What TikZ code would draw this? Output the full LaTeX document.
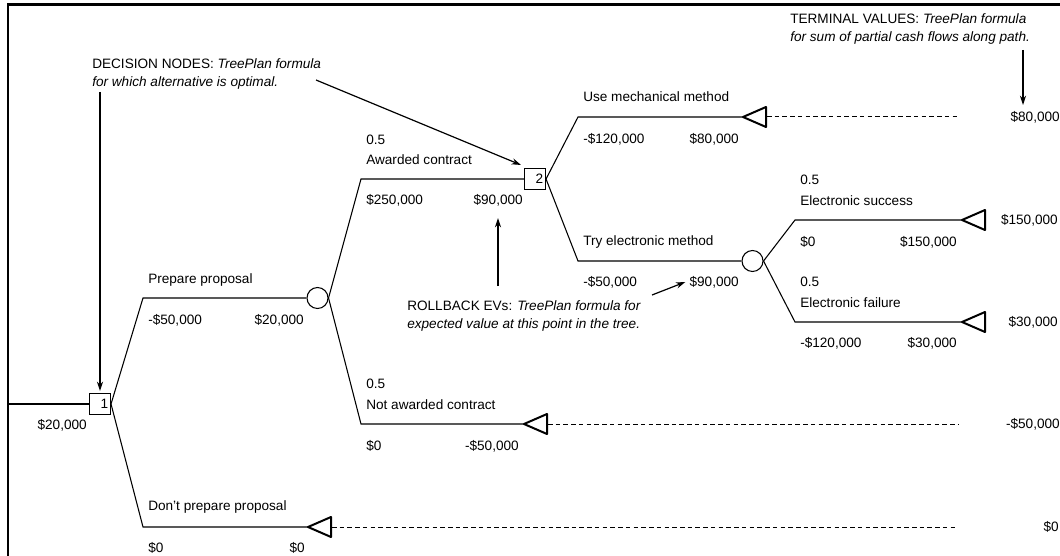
\documentclass[tikz,border=0pt]{standalone}
\usepackage{fontspec}
\setmainfont{Liberation Sans}
\usetikzlibrary{arrows.meta}
\begin{document}
\begin{tikzpicture}[x=0.75pt,y=-0.75pt,
  br/.style={line width=0.8pt},
  dashline/.style={line width=0.75pt, dash pattern=on 3.4pt off 2.4pt},
  tri/.style={line width=1.5pt, line join=round},
  lbl/.style={inner sep=0pt, anchor=west, font=\fontsize{10.2}{12}\selectfont},
  val/.style={inner sep=0pt, anchor=east, font=\fontsize{10.2}{12}\selectfont},
  dnode/.style={draw, line width=0.8pt, rectangle, minimum size=15.75pt, inner sep=0pt},
  cnode/.style={draw, line width=0.8pt, circle, minimum size=15.75pt, inner sep=0pt},
  note/.style={inner sep=0pt, anchor=west, align=left, font=\fontsize{10.2}{14.2}\selectfont},
  ptr/.style={line width=0.9pt, -{Stealth[length=7pt,width=4.6pt]}},
  frame/.style={line width=1.7pt}
]
\useasboundingbox (0,0) rectangle (1060,556);
% frame
\draw[frame] (8,556) -- (8,4.5) -- (1060,4.5);

% decision and chance nodes
\node[dnode] (d1) at (100,404) {};
\node[val] at ([xshift=-2pt]d1.east) {1};
\node[cnode] (c1) at (317.5,298) {};
\node[dnode] (d2) at (535,179) {};
\node[val] at ([xshift=-2pt]d2.east) {2};
\node[cnode] (c2) at (752.5,261) {};

% terminal tips
\coordinate (tMech) at (743,117);
\coordinate (tSucc) at (962,220);
\coordinate (tFail) at (962,322);
\coordinate (tNot) at (524,424);
\coordinate (tDont) at (308,527);
\foreach \t in {tMech,tSucc,tFail,tNot,tDont}{
  \draw[tri] (\t) -- ++(23,-10) -- ++(0,20) -- cycle;
}
% dashed extensions
\coordinate (eMech) at (958,117);
\coordinate (eNot) at (958,424);
\coordinate (eDont) at (958,527);
\draw[dashline] ([xshift=18pt]tMech) -- (eMech);
\draw[dashline] ([xshift=18pt]tNot) -- (eNot);
\draw[dashline] ([xshift=18pt]tDont) -- (eDont);

% root
\coordinate (root) at (8,404);
\draw[br] (root) -- (d1.west);
\node[val] at (87,425) {\$20,000};

% branches from d1
\draw[br] (d1.east) -- (143,298) -- (c1.west);
\node[lbl] at (148,280) {Prepare proposal};
\node[lbl] at (148,320) {-\$50,000};
\node[val] at (304,320) {\$20,000};

\draw[br] (d1.east) -- (143,527) -- (tDont);
\node[lbl] at (148,507) {Don't prepare proposal};
\node[lbl] at (148,548) {\$0};
\node[val] at (305,548) {\$0};

% branches from c1
\draw[br] (c1.east) -- (361,179) -- (d2.west);
\node[lbl] at (366,140) {0.5};
\node[lbl] at (366,160) {Awarded contract};
\node[lbl] at (366,200) {\$250,000};
\node[val] (v90a) at (523,200) {\$90,000};

\draw[br] (c1.east) -- (361,424) -- (tNot);
\node[lbl] at (366,384) {0.5};
\node[lbl] at (366,405) {Not awarded contract};
\node[lbl] at (366,446) {\$0};
\node[val] at (519,446) {-\$50,000};

% branches from d2
\draw[br] (d2.east) -- (578,117) -- (tMech);
\node[lbl] at (583,97) {Use mechanical method};
\node[lbl] at (583,139) {-\$120,000};
\node[val] at (739,139) {\$80,000};

\draw[br] (d2.east) -- (578,261) -- (c2.west);
\node[lbl] at (583,242) {Try electronic method};
\node[lbl] at (583,282) {-\$50,000};
\node[val] (v90b) at (739,282) {\$90,000};

% branches from c2
\draw[br] (c2.east) -- (795,220) -- (tSucc);
\node[lbl] at (800,180) {0.5};
\node[lbl] at (800,201) {Electronic success};
\node[lbl] at (800,242) {\$0};
\node[val] at (957,242) {\$150,000};

\draw[br] (c2.east) -- (795,322) -- (tFail);
\node[lbl] at (800,282) {0.5};
\node[lbl] at (800,303) {Electronic failure};
\node[lbl] at (800,343) {-\$120,000};
\node[val] at (957,343) {\$30,000};

% terminal values
\node[val] (tv1) at (1060,117) {\$80,000};
\node[val] (tv2) at (1058,220) {\$150,000};
\node[val] (tv3) at (1058,322) {\$30,000};
\node[val] (tv4) at (1060,424) {-\$50,000};
\node[val] (tv5) at (1059,527) {\$0};

% notes
\node[note] (ndec) at (92,74) {DECISION NODES: \textit{TreePlan formula}\\\textit{for which alternative is optimal.}};
\node[note] (nroll) at (407,316) {ROLLBACK EVs: \textit{TreePlan formula for}\\\textit{expected value at this point in the tree.}};
\node[note] (nterm) at (790,29) {TERMINAL VALUES: \textit{TreePlan formula}\\\textit{for sum of partial cash flows along path.}};

% pointers
\coordinate (pDecA) at (100,92);
\coordinate (pDecB) at (316,80);
\coordinate (pRollA) at (498,286);
\coordinate (pRollAt) at (498,218);
\coordinate (pRollB) at (652,295);
\coordinate (pTerm) at (1023,50);
\coordinate (pTermt) at (1023,105);
\draw[ptr] (pDecA) -- ([yshift=1.5pt]d1.north);
\draw[ptr] (pDecB) -- ([shift={(-3,-3)}]d2.north west);
\draw[ptr] (pRollA) -- (pRollAt);
\draw[ptr] (pRollB) -- ([xshift=-3pt]v90b.west);
\draw[ptr] (pTerm) -- (pTermt);
\end{tikzpicture}
\end{document}
